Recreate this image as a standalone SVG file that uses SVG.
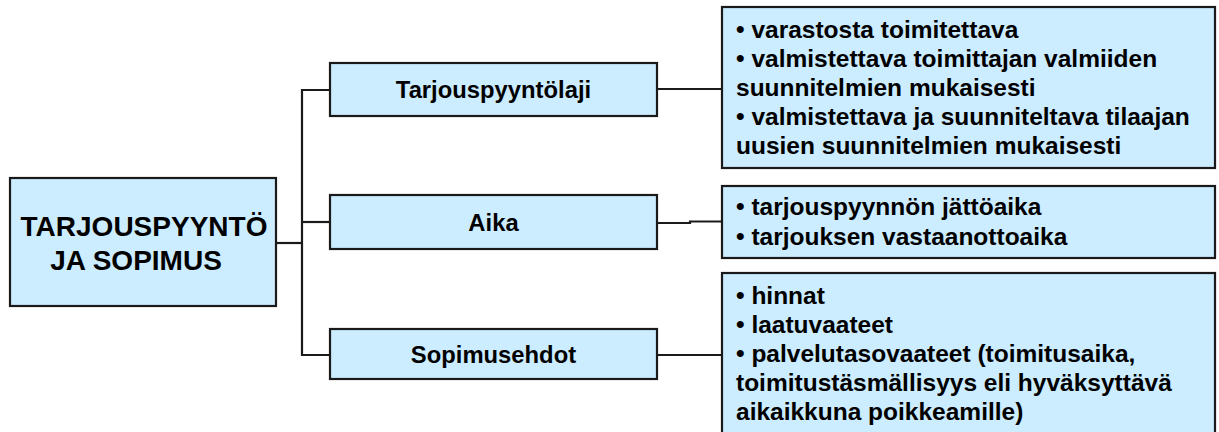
<svg xmlns="http://www.w3.org/2000/svg" width="1219" height="432" viewBox="0 0 1219 432">
<style>
.box{fill:#CCECFF;stroke:#1a1a1a;stroke-width:2.2}
.ln{fill:none;stroke:#1a1a1a;stroke-width:2.2}
.t{font-family:"Liberation Sans",Arial,sans-serif;font-weight:bold;fill:#000}
.main{font-size:28px}
.mid{font-size:23.8px}
.r{font-size:24.5px}
</style>
<rect width="1219" height="432" fill="#ffffff"/>
<g id="connectors">
<polyline class="ln" points="276,243 302,243"/>
<polyline class="ln" points="330,90 302,90 302,355 330,355"/>
<polyline class="ln" points="302,222 330,222"/>
<polyline class="ln" points="657,89 722,89"/>
<polyline class="ln" points="657,223 690,223 690,221.5 722,221.5"/>
<polyline class="ln" points="657,355 722,355"/>
</g>
<g id="main">
<rect class="box" x="10" y="178" width="266" height="128"/>
<text class="t main" x="144" y="236" text-anchor="middle">TARJOUSPYYNTÖ</text>
<text class="t main" x="136" y="270" text-anchor="middle">JA SOPIMUS</text>
</g>
<g id="tarjouspyyntolaji">
<rect class="box" x="330" y="63" width="327" height="53"/>
<text class="t mid" x="493.5" y="98" text-anchor="middle">Tarjouspyyntölaji</text>
</g>
<g id="aika">
<rect class="box" x="330" y="195" width="327" height="54"/>
<text class="t mid" x="493.5" y="230.5" text-anchor="middle">Aika</text>
</g>
<g id="sopimusehdot">
<rect class="box" x="330" y="329" width="327" height="50"/>
<text class="t mid" x="493.5" y="363" text-anchor="middle">Sopimusehdot</text>
</g>
<g id="lajit">
<rect class="box" x="722" y="7" width="493" height="161"/>
<text class="t r" x="736" y="38">• varastosta toimitettava</text>
<text class="t r" x="736" y="67">• valmistettava toimittajan valmiiden</text>
<text class="t r" x="736" y="96">suunnitelmien mukaisesti</text>
<text class="t r" x="736" y="125">• valmistettava ja suunniteltava tilaajan</text>
<text class="t r" x="736" y="154">uusien suunnitelmien mukaisesti</text>
</g>
<g id="ajat">
<rect class="box" x="722" y="186" width="493" height="72"/>
<text class="t r" x="736" y="215">• tarjouspyynnön jättöaika</text>
<text class="t r" x="736" y="245">• tarjouksen vastaanottoaika</text>
</g>
<g id="ehdot">
<rect class="box" x="722" y="273" width="493" height="170"/>
<text class="t r" x="736" y="304">• hinnat</text>
<text class="t r" x="736" y="333">• laatuvaateet</text>
<text class="t r" x="736" y="362">• palvelutasovaateet (toimitusaika,</text>
<text class="t r" x="736" y="391">toimitustäsmällisyys eli hyväksyttävä</text>
<text class="t r" x="736" y="420">aikaikkuna poikkeamille)</text>
</g>
</svg>
